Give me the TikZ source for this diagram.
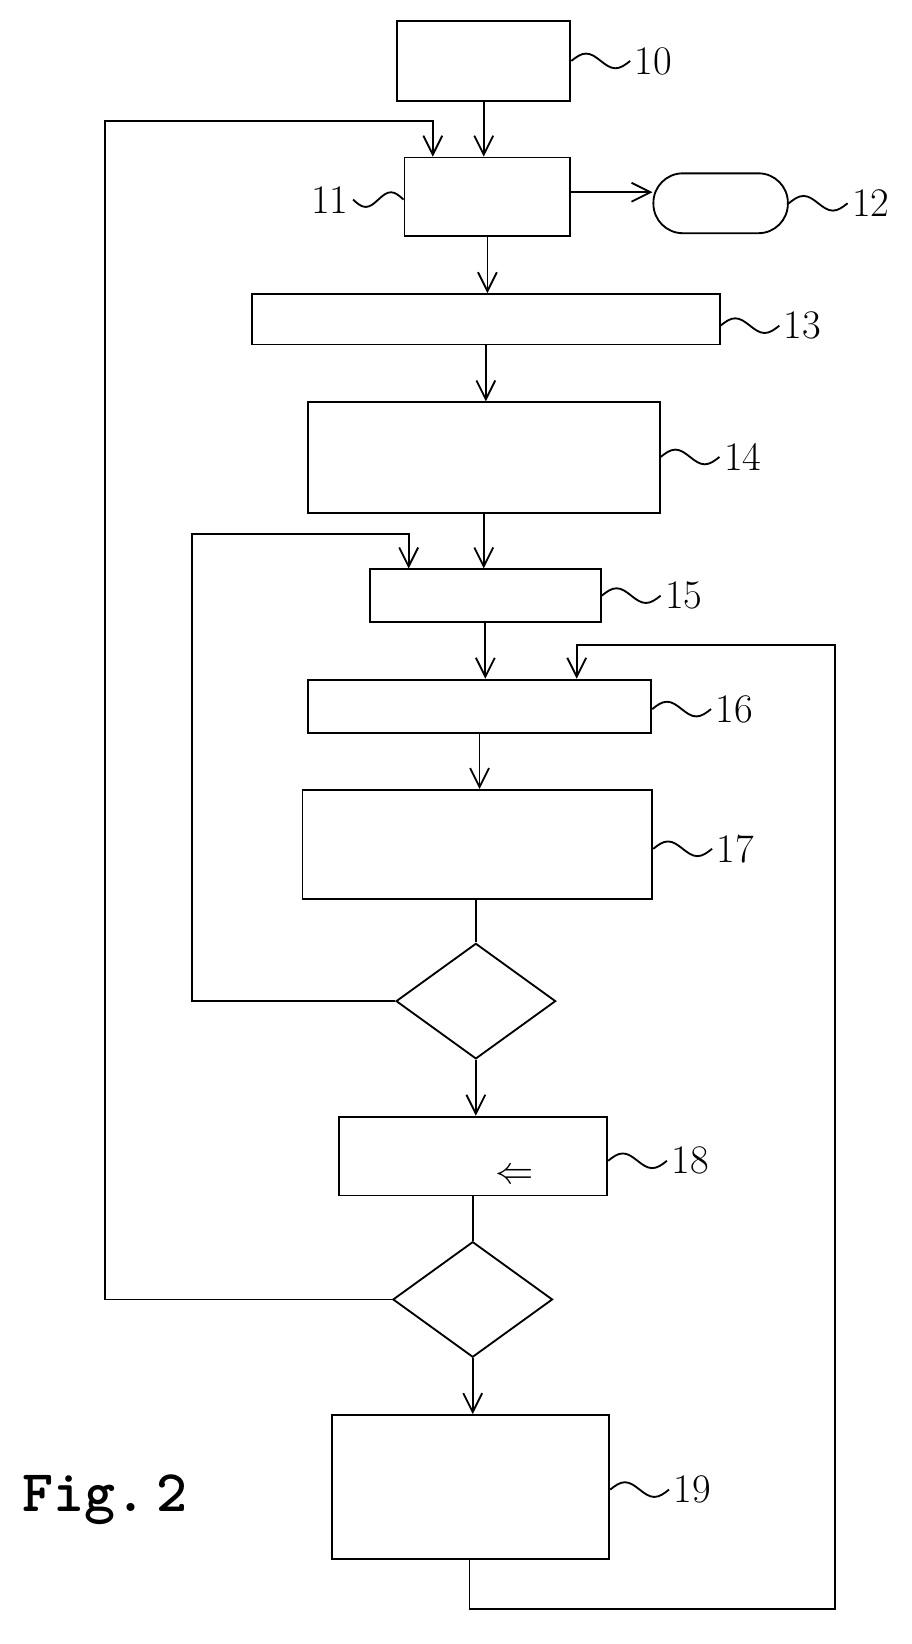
\documentclass[tikz,border=0pt]{standalone}
\usepackage{amsmath}
\usetikzlibrary{arrows.meta,positioning,calc,shapes.geometric}

\newcommand{\wig}[1]{ sin ++(#1,-7) cos ++(#1,7) sin ++(#1,7) cos ++(#1,-7)}

\begin{document}
\begin{tikzpicture}[
    x=0.02cm, y=-0.02cm,
    line width=1pt,
    every node/.style={font=\fontsize{22}{24}\selectfont},
    box/.style 2 args={rectangle, draw, minimum width=#1*0.02cm, minimum height=#2*0.02cm, inner sep=0pt},
    stadium/.style 2 args={box={#1}{#2}, rounded corners=0.56cm},
    decide/.style={diamond, draw, minimum width=3.04cm, minimum height=2.2cm, inner sep=0pt},
    arr/.style={-{Straight Barb[length=0.36cm, width=0.36cm]}},
    num/.style={anchor=west, inner sep=2pt},
]
    \useasboundingbox (0,0) rectangle (868,1565);

    % Boxes
    \node[box={165}{76}] (b10) at (460.5,58) {};
    \node[box={158}{75}] (b11) at (464,187.5) {};
    \node[stadium={128}{57}] (b12) at (686,193.5) {};
    \node[box={445}{48}] (b13) at (462.5,304) {};
    \node[box={335}{105}] (b14) at (460.5,435.5) {};
    \node[box={220}{50}] (b15) at (462,567) {};
    \node[box={327}{51}] (b16) at (456.5,672.5) {};
    \node[box={333}{104}] (b17) at (454.5,804) {};
    \node[decide] (d1) at (453,953) {};
    \node[box={255}{75}] (b18) at (450.5,1100.5) {};
    \node[decide] (d2) at (450,1237) {};
    \node[box={264}{137}] (b19) at (448,1415.5) {};

    \node (dbl) at (490,1120) {$\Leftarrow$};
    \node[font=\fontsize{32}{34}\selectfont\ttfamily\bfseries] (fig) at (100,1428) {Fig.\,2};

    % Loop corners
    \coordinate (lp1) at (183,508);
    \coordinate (lp2) at (100,115);
    \coordinate (lp3a) at (447,1532);
    \coordinate (lp3b) at (795,614);

    % Main flow
    \draw[arr] (b10.south) -- (b10.south |- b11.north);
    \draw[arr] (b11.east |- 0,183) -- (b12.west |- 0,183);
    \draw[arr] (b11.south) -- (b11.south |- b13.north);
    \draw[arr] (b13.south) -- (b13.south |- b14.north);
    \draw[arr] (b14.south) -- (b14.south |- b15.north);
    \draw[arr] (b15.south) -- (b15.south |- b16.north);
    \draw[arr] (b16.south) -- (b16.south |- b17.north);
    \draw (d1.north |- b17.south) -- (d1.north);
    \draw[arr] (d1.south) -- (d1.south |- b18.north);
    \draw (d2.north |- b18.south) -- (d2.north);
    \draw[arr] (d2.south) -- (d2.south |- b19.north);

    % Feedback loops
    \draw[arr] (d1.west) -| (lp1) -| ([xshift=-1.46cm]b15.north);
    \draw[arr] (d2.west) -| (lp2) -| ([xshift=-1.04cm]b11.north);
    \draw[arr] (lp3a |- b19.south) -- (lp3a) -| (lp3b) -| ([xshift=1.85cm]b16.north);

    % Reference numerals
    \draw (b10.east |- 0,58) \wig{14} node[num] {10};
    \draw (b12.east) \wig{14} node[num] {12};
    \draw (b13.east |- 0,310) \wig{14} node[num] {13};
    \draw (b14.east |- 0,435) \wig{14} node[num] {14};
    \draw (b15.east |- 0,567) \wig{14} node[num] {15};
    \draw (b16.east |- 0,675) \wig{14} node[num] {16};
    \draw (b17.east |- 0,808) \wig{14} node[num] {17};
    \draw (b18.east |- 0,1105) \wig{14} node[num] {18};
    \draw (b19.east |- 0,1418) \wig{14} node[num] {19};
    \draw (b11.west |- 0,190) \wig{-12} node[anchor=east, inner sep=2pt] {11};
\end{tikzpicture}
\end{document}
